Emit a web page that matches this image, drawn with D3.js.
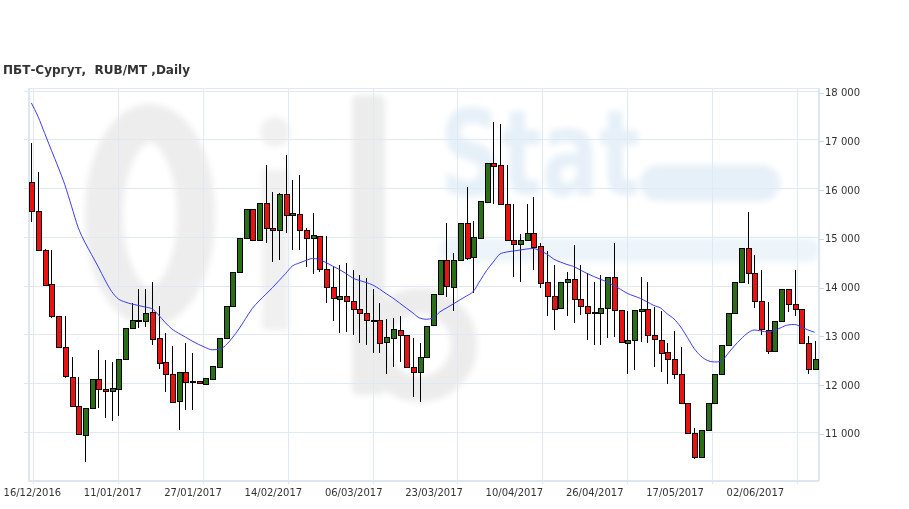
<!DOCTYPE html>
<html><head><meta charset="utf-8">
<script src="https://cdn.jsdelivr.net/npm/d3@7"></script>
<style>body{margin:0;background:#fff}svg{display:block}</style>
</head><body>
<svg id="c" width="909" height="509"></svg>
<script>
const title = "ПБТ-Сургут,  RUB/MT ,Daily";
const xTickLabels = ["16/12/2016","11/01/2017","27/01/2017","14/02/2017","06/03/2017","23/03/2017","10/04/2017","26/04/2017","17/05/2017","02/06/2017"];
const xTickIndex = [0,12,24,36,48,60,72,84,96,108];
const yTicks = [11000,12000,13000,14000,15000,16000,17000,18000];

const openV = [16117,15522,14722,14025,13374,12732,12117,11522,10933,11481,
12076,11871,11830,11871,12486,13122,13278,13257,13442,12917,
12424,12178,11630,12219,12030,12027,11973,12076,12322,12917,
13579,14262,14968,15563,14933,15672,15173,15118,15871,15426,
15460,15118,14968,15015,14318,13963,13717,13770,13668,13511,
13430,13272,13272,12835,12917,13081,12978,12322,12219,12527,
13176,13819,14509,13963,14509,15276,14578,14968,15706,16507,
16458,15665,14919,14831,14933,15071,14800,14066,13784,13532,
14066,14127,13717,13579,13442,13430,13532,14168,13477,12814,
12882,13463,13511,12984,12882,12630,12472,12178,11583,10968,
10476,11021,11583,12184,12765,13430,14058,14763,14236,13682,
13087,12642,13258,13922,13614,13511,12814,12281];
const closeV = [15522,14722,13996,13374,12732,12129,11528,10948,11481,12076,
11871,11830,11891,12472,13122,13292,13290,13430,12896,12404,
12178,11604,12219,12014,12020,11985,12096,12342,12917,13579,
14262,14968,15563,14913,15672,15173,15118,15871,15426,15481,
15132,14968,15030,14318,13963,13737,13770,13668,13511,13430,
13272,13265,12814,12937,13101,12978,12322,12219,12527,13155,
13819,14509,13976,14509,15276,14558,14989,15719,16507,16451,
15665,14913,14831,14919,15071,14775,14045,13784,13511,14066,
14127,13717,13579,13430,13436,13532,14168,13477,12835,12882,
13477,13511,12984,12896,12609,12492,12178,11583,10968,10476,
11021,11583,12178,12765,13430,14058,14763,14236,13682,13101,
12642,13258,13922,13620,13511,12814,12281,12472];
const highV = [16917,16322,14740,14722,13374,13374,12540,12129,11481,12076,
12677,12472,12424,12472,13122,13650,13922,13922,14066,13579,
13019,12765,12219,12827,12621,12027,12096,12342,12917,13579,
14262,14968,15563,15563,15672,16472,15924,15890,16677,16164,
16267,15173,15481,15015,15015,14385,14420,14468,14318,14215,
14147,13922,13635,13313,13327,13374,12978,12917,12827,13155,
13819,14509,15276,14660,15276,16014,15323,15719,16507,17360,
17313,16472,15665,15057,15665,15809,14866,14714,14420,14066,
14283,14831,14420,14263,14078,14215,14168,14866,13477,13477,
13477,14181,14078,13566,13483,12814,13073,12732,11583,11071,
11021,11583,12178,12765,13430,14058,14763,15514,14626,14318,
13668,13258,13922,13922,14318,13511,12964,12868];
const lowV = [15309,14700,13980,13327,12732,12096,11500,10933,10386,11481,
11481,11276,11227,11323,12486,13122,13122,13143,12779,12281,
11821,11583,11036,11446,11446,11985,11973,12076,12322,12917,
13579,14262,14968,14913,14933,14878,14476,14523,15083,14728,
14728,14374,14236,14283,13635,13278,13032,13053,12984,12827,
12779,12622,12622,12178,12322,12437,12322,11719,11617,12527,
13176,13819,13770,13480,14509,14523,13840,14968,15706,15665,
15665,14913,14181,14078,14933,14318,13942,13374,13087,13532,
13374,13224,13395,12882,12779,12779,12917,12937,12835,12184,
12266,12835,12827,12322,12232,11979,12076,11583,10968,10435,
10460,11021,11583,12184,12765,13430,14058,14031,13532,12984,
12595,12642,13258,13463,13374,12814,12184,12281];
const maV = [17744,17465,17118,16773,16431,16066,15627,15188,14886,14634,
14381,14113,13877,13723,13662,13620,13590,13559,13524,13395,
13241,13108,13020,12943,12861,12790,12728,12681,12687,12769,
12923,13108,13321,13528,13682,13817,13953,14101,14250,14400,
14461,14513,14554,14533,14472,14400,14328,14246,14154,14103,
14062,14010,13928,13832,13744,13641,13538,13436,13333,13307,
13333,13456,13538,13620,13703,13785,13877,14092,14308,14482,
14646,14687,14708,14728,14749,14759,14708,14646,14544,14482,
14431,14390,14318,14246,14185,14127,14072,14000,13922,13840,
13785,13733,13662,13590,13538,13415,13313,13149,12933,12708,
12554,12461,12431,12441,12595,12759,12903,13026,13087,13067,
13046,13077,13138,13190,13200,13149,13087,13040];

const svg = d3.select("#c");
const L = 28, R = 818, T = 88, B = 480;
const n = openV.length;
const idx = d3.range(n);
const x = d3.scaleBand().domain(idx).range([L, R]).padding(0);
const xc = i => x(i) + x.bandwidth() / 2;
const xLin = d3.scaleLinear().domain([-0.5, n - 0.5]).range([L, R]);
const y = d3.scaleLinear().domain([10000, 18000]).range([480.5, 90.5]);

// watermark (soft logo)
const defs = svg.append("defs");
defs.append("filter").attr("id", "soft").attr("x", "-20%").attr("y", "-20%").attr("width", "140%").attr("height", "140%")
  .append("feGaussianBlur").attr("stdDeviation", 3);
const wm = svg.append("g").attr("class", "watermark").attr("filter", "url(#soft)");
wm.append("ellipse").attr("cx", 150).attr("cy", 215).attr("rx", 46).attr("ry", 92)
  .attr("fill", "none").attr("stroke", "#ededed").attr("stroke-width", 38);
wm.append("rect").attr("x", 262).attr("y", 170).attr("width", 27).attr("height", 160).attr("fill", "#f0f0f0");
wm.append("circle").attr("cx", 275).attr("cy", 132).attr("r", 15).attr("fill", "#f0f0f0");
wm.append("rect").attr("x", 352).attr("y", 95).attr("width", 33).attr("height", 300).attr("rx", 6).attr("fill", "#ececec");
wm.append("circle").attr("cx", 420).attr("cy", 345).attr("r", 44)
  .attr("fill", "none").attr("stroke", "#ececec").attr("stroke-width", 26);
wm.append("text").attr("transform", "translate(440,195) scale(1,1.4)").attr("font-family", "DejaVu Sans")
  .attr("font-weight", "bold").attr("font-size", 85).attr("fill", "#e6f0f8").text("Stat");
wm.append("rect").attr("x", 640).attr("y", 165).attr("width", 140).attr("height", 36).attr("rx", 18).attr("fill", "#e6f0f8");
wm.append("rect").attr("x", 440).attr("y", 238).attr("width", 380).attr("height", 24).attr("rx", 12).attr("fill", "#edf4fa");

// grid
const gridColor = "#dfe9f4";
const g = svg.append("g").attr("shape-rendering", "crispEdges");
g.selectAll(".hg").data(yTicks).join("line")
  .attr("x1", L - 4).attr("x2", R).attr("y1", d => Math.round(y(d)) + 0.5).attr("y2", d => Math.round(y(d)) + 0.5)
  .attr("stroke", gridColor);
const vgrid = d3.range(10).map(k => 0.25 + 12.68 * k);
g.selectAll(".vg").data(vgrid).join("line")
  .attr("x1", d => Math.round(xLin(d)) + 0.5).attr("x2", d => Math.round(xLin(d)) + 0.5)
  .attr("y1", T).attr("y2", B + 4).attr("stroke", gridColor);
// frame
g.append("line").attr("x1", L).attr("x2", R).attr("y1", T + 0.5).attr("y2", T + 0.5).attr("stroke", gridColor);
g.append("line").attr("x1", L).attr("x2", R + 1).attr("y1", B + 0.5).attr("y2", B + 0.5).attr("stroke", "#dbe6f2").attr("stroke-width", 2);
g.append("line").attr("x1", L + 0.5).attr("x2", L + 0.5).attr("y1", T).attr("y2", B).attr("stroke", "#dbe6f2").attr("stroke-width", 2);
g.append("line").attr("x1", R + 0.5).attr("x2", R + 0.5).attr("y1", T).attr("y2", B + 1).attr("stroke", "#dbe6f2").attr("stroke-width", 2);
g.selectAll(".rt").data(yTicks).join("line")
  .attr("x1", R + 1).attr("x2", R + 6).attr("y1", d => Math.round(y(d)) + 2.5).attr("y2", d => Math.round(y(d)) + 2.5)
  .attr("stroke", "#cbd9e7");

// y labels
const fmt = v => d3.format(",")(v).replace(/,/g, " ");
svg.selectAll(".yl").data(yTicks).join("text")
  .attr("x", 825).attr("y", d => y(d) + 2).attr("dy", "0.35em")
  .attr("font-family", "DejaVu Sans").attr("font-size", 10).attr("fill", "#333")
  .text(fmt);
// x labels
svg.selectAll(".xl").data(xTickIndex).join("text")
  .attr("x", d => xc(d) + 1).attr("y", 496).attr("text-anchor", "middle")
  .attr("font-family", "DejaVu Sans").attr("font-size", 10).attr("fill", "#333")
  .text((d, k) => xTickLabels[k]);

// title
svg.append("text").attr("x", 3).attr("y", 74)
  .style("white-space", "pre")
  .attr("font-family", "DejaVu Sans").attr("font-weight", "bold").attr("font-size", 12).attr("fill", "#333")
  .text(title);

// candles
const cg = svg.append("g").attr("shape-rendering", "crispEdges");
cg.selectAll(".wick").data(idx).join("line")
  .attr("x1", i => Math.round(xc(i)) + 0.5).attr("x2", i => Math.round(xc(i)) + 0.5)
  .attr("y1", i => y(highV[i])).attr("y2", i => y(lowV[i]))
  .attr("stroke", "#000").attr("stroke-width", 1);
cg.selectAll(".body").data(idx).join("rect")
  .attr("x", i => Math.round(xc(i)) - 2)
  .attr("width", 5)
  .attr("y", i => y(Math.max(openV[i], closeV[i])))
  .attr("height", i => Math.max(1, Math.abs(y(openV[i]) - y(closeV[i]))))
  .attr("fill", i => closeV[i] >= openV[i] ? "#2a6e16" : "#ec1212")
  .attr("stroke", "#000").attr("stroke-width", 1);

// moving average
svg.append("path").datum(idx)
  .attr("d", d3.line().x(i => xc(i)).y(i => y(maV[i])).curve(d3.curveMonotoneX))
  .attr("fill", "none").attr("stroke", "#3b3bf0").attr("stroke-width", 1);
</script>
</body></html>
